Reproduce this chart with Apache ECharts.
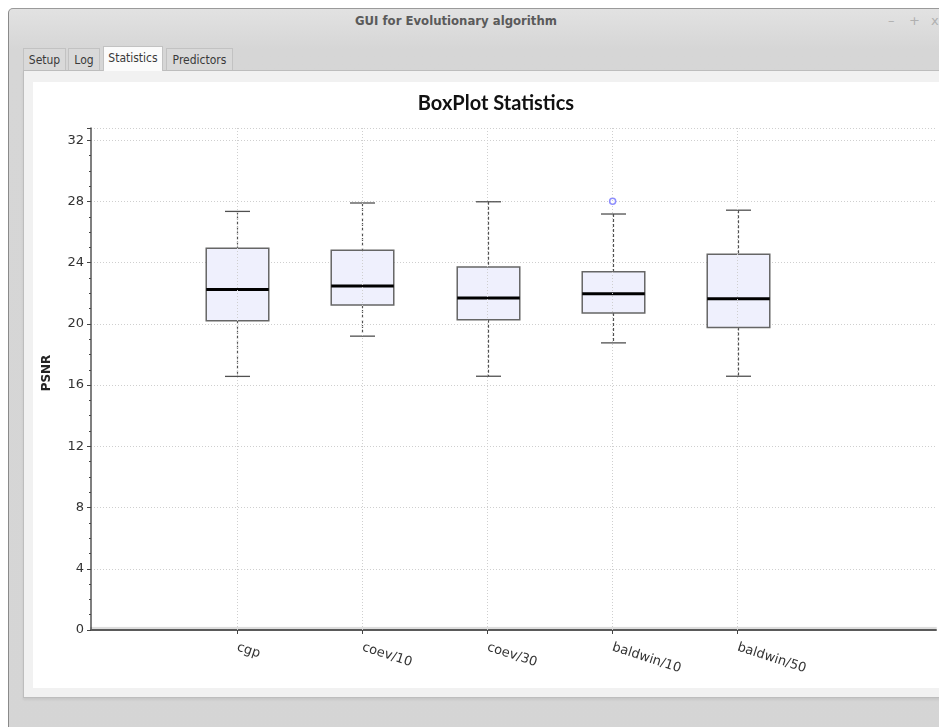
<!DOCTYPE html>
<html>
<head>
<meta charset="utf-8">
<script src="https://cdn.jsdelivr.net/npm/echarts@6/dist/echarts.min.js"></script>
<style>
  html, body { margin: 0; padding: 0; background: #ffffff; width: 939px; height: 727px; overflow: hidden; }
  .win { position: absolute; left: 8px; top: 8px; width: 960px; height: 760px; background: #d5d5d5;
         border-left: 1px solid #8a8a8a; border-top: 1px solid #9a9a9a; border-top-left-radius: 5px;
         background-image: linear-gradient(#e2e2e2, #d6d6d6 40px, #d5d5d5); }
  .wtitle { position: absolute; left: 0; top: 4px; width: 894px; text-align: center;
            font: bold 13px "DejaVu Sans Condensed", "DejaVu Sans", sans-serif; color: #5a5a5a; }
  .ctrl { position: absolute; top: 4px; font: 13px "DejaVu Sans", sans-serif; color: #b0b0b0; }
  .tab { position: absolute; top: 39px; height: 22px; background: #d9d9d9; border: 1px solid #c2c2c2; border-bottom: none;
         font: 12px "DejaVu Sans Condensed", "DejaVu Sans", sans-serif; color: #3a3a3a; line-height: 22px; text-align: center; box-sizing: border-box; }
  .tab.sel { top: 37px; height: 25px; background: #fbfbfb; line-height: 22px; z-index: 2; }
  .pane { position: absolute; left: 14px; top: 61px; width: 950px; height: 628px; background: #f1f1f1;
          border: 1px solid #bdbdbd; box-sizing: border-box; box-shadow: 0 2px 2px #c8c8c8; }
  .inner { position: absolute; left: 24px; top: 73px; width: 940px; height: 606px; background: #ffffff; }
  #chart { position: absolute; left: 0; top: 0; width: 939px; height: 727px; }
</style>
</head>
<body>
<div class="win">
  <div class="wtitle">GUI for Evolutionary algorithm</div>
  <div class="ctrl" style="left:879px">–</div>
  <div class="ctrl" style="left:900px">+</div>
  <div class="ctrl" style="left:922px">x</div>
  <div class="pane"></div>
  <div class="tab" style="left:14px;width:43px">Setup</div>
  <div class="tab" style="left:59px;width:32px">Log</div>
  <div class="tab sel" style="left:94px;width:60px">Statistics</div>
  <div class="tab" style="left:157px;width:67px">Predictors</div>
  <div class="inner"></div>
</div>
<div id="chart"></div>
<script>
// ---- data ----
const categories = ['cgp', 'coev/10', 'coev/30', 'baldwin/10', 'baldwin/50'];
const positions = [1, 2, 3, 4, 5];
const whiskerLow  = [16.57, 19.20, 16.58, 18.76, 16.58];
const quartile1   = [20.20, 21.24, 20.27, 20.72, 19.77];
const medians     = [22.25, 22.48, 21.70, 21.97, 21.64];
const quartile3   = [24.95, 24.82, 23.72, 23.40, 24.55];
const whiskerHigh = [27.35, 27.90, 27.98, 27.18, 27.43];
const outlierCategory = [4];
const outlierValue = [28.02];
const yTicks = [0, 4, 8, 12, 16, 20, 24, 28, 32];

const boxData = positions.map((p, i) => [p, whiskerLow[i], quartile1[i], medians[i], quartile3[i], whiskerHigh[i]]);
const outliers = outlierCategory.map((c, i) => [c, outlierValue[i]]);

const chart = echarts.init(document.getElementById('chart'), null, { renderer: 'canvas' });

function renderBox(params, api) {
  const x = api.value(0);
  const lo = api.coord([x, api.value(1)]);
  const q1 = api.coord([x, api.value(2)]);
  const md = api.coord([x, api.value(3)]);
  const q3 = api.coord([x, api.value(4)]);
  const hi = api.coord([x, api.value(5)]);
  const boxHalf = (api.coord([x + 0.25, 0])[0] - api.coord([x - 0.25, 0])[0]) / 2;
  const capHalf = (api.coord([x + 0.1, 0])[0] - api.coord([x - 0.1, 0])[0]) / 2;
  const cx = Math.round(lo[0]) + 0.5;
  const dashStyle = { stroke: '#505050', lineWidth: 1.2, lineDash: [3, 2] };
  const capStyle = { stroke: '#505050', lineWidth: 1.3 };
  return {
    type: 'group',
    children: [
      { type: 'line', shape: { x1: cx, y1: hi[1], x2: cx, y2: q3[1] }, style: dashStyle },
      { type: 'line', shape: { x1: cx, y1: q1[1], x2: cx, y2: lo[1] }, style: dashStyle },
      { type: 'line', shape: { x1: cx - capHalf, y1: hi[1], x2: cx + capHalf, y2: hi[1] }, style: capStyle },
      { type: 'line', shape: { x1: cx - capHalf, y1: lo[1], x2: cx + capHalf, y2: lo[1] }, style: capStyle },
      { type: 'rect', shape: { x: cx - boxHalf, y: q3[1], width: boxHalf * 2, height: q1[1] - q3[1] },
        style: { fill: '#eff0fd', stroke: '#666666', lineWidth: 1.5 } },
      { type: 'line', shape: { x1: cx - boxHalf, y1: md[1], x2: cx + boxHalf, y2: md[1] },
        style: { stroke: '#000000', lineWidth: 3 } }
    ]
  };
}

chart.setOption({
  animation: false,
  title: {
    text: 'BoxPlot Statistics',
    left: 491, top: 89, textAlign: 'center',
    textStyle: { fontFamily: 'Lato', fontWeight: 'bold', fontSize: 20, color: '#111111' }
  },
  grid: { left: 91, top: 128, right: 3, bottom: 97, containLabel: false },
  xAxis: {
    type: 'value',
    min: -0.17, max: 6.585,
    axisLine: { show: true, onZero: false, lineStyle: { color: '#5a5a5a', width: 2, shadowColor: 'rgba(0,0,0,0.15)', shadowOffsetY: -2, shadowBlur: 1 } },
    axisTick: { show: true, customValues: positions, length: 4, lineStyle: { color: '#444' } },
    axisLabel: {
      customValues: positions,
      formatter: v => categories[positions.indexOf(Math.round(v))] || '',
      rotate: -18, margin: 17,
      fontFamily: 'DejaVu Sans', fontSize: 13, color: '#333333'
    },
    splitLine: { show: false }
  },
  yAxis: {
    type: 'value',
    min: 0, max: 32.8, interval: 4,
    name: 'PSNR', nameLocation: 'middle', nameGap: 38, nameRotate: 90,
    nameTextStyle: { fontFamily: 'DejaVu Sans', fontWeight: 'bold', fontSize: 12, color: '#222', padding: [0, 0, 0, 12] },
    axisLine: { show: true, onZero: false, lineStyle: { color: '#555555', width: 1.5 } },
    axisTick: { show: true, length: 4, lineStyle: { color: '#444' } },
    minorTick: { show: true, splitNumber: 4, length: 2, lineStyle: { color: '#444' } },
    axisLabel: {
      customValues: yTicks,
      fontFamily: 'DejaVu Sans', fontSize: 13, color: '#333333', margin: 7
    },
    splitLine: { show: true, lineStyle: { color: '#cfcfcf', type: [1, 2], width: 1 } }
  },
  series: [
    {
      type: 'custom',
      renderItem: renderBox,
      encode: { x: 0, y: [1, 2, 3, 4, 5] },
      data: boxData,
      z: 3,
      markLine: {
        silent: true, symbol: 'none', label: { show: false },
        lineStyle: { color: '#cfcfcf', type: [1, 2], width: 1 },
        data: positions.map(p => ({ xAxis: p }))
      }
    },
    {
      type: 'scatter',
      data: outliers,
      symbol: 'circle', symbolSize: 6,
      itemStyle: { color: '#ffffff', borderColor: '#7070ff', borderWidth: 1.5 },
      z: 4
    }
  ]
});
</script>
</body>
</html>
